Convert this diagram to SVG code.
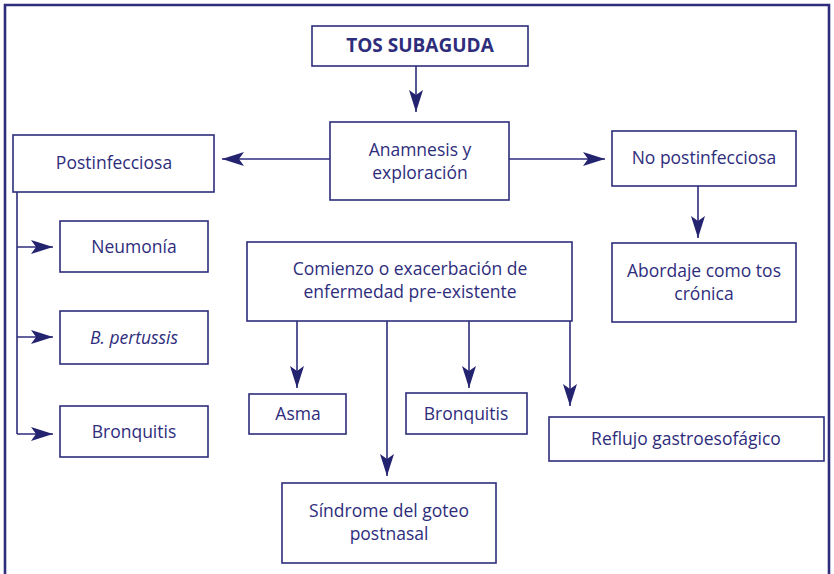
<svg xmlns="http://www.w3.org/2000/svg" width="834" height="574" viewBox="0 0 834 574">
<style>
.box{fill:#fff;stroke:#2e2d7c;stroke-width:1.6}
.t{font-family:"Open Sans","Liberation Sans",sans-serif;font-size:17.5px;fill:#2e2d7c;text-anchor:middle}
.b{font-weight:bold;font-size:19px}
.c{fill:none;stroke:#2e2d7c;stroke-width:1.6}
</style>
<defs>
<marker id="ah" markerUnits="userSpaceOnUse" markerWidth="22" markerHeight="14" viewBox="0 0 22 14" refX="22" refY="7" orient="auto">
<path d="M0,0 L22,7 L0,14 L5,7 z" fill="#24236f"/>
</marker>
</defs>
<rect width="834" height="574" fill="#fff"/>
<path d="M5,580 V5 H829 V580" fill="none" stroke="#2e2d7c" stroke-width="2.6"/>
<g id="connectors">
<line class="c" x1="416" y1="66" x2="416" y2="112" marker-end="url(#ah)"/>
<line class="c" x1="330" y1="159" x2="222" y2="159" marker-end="url(#ah)"/>
<line class="c" x1="509" y1="159" x2="605" y2="159" marker-end="url(#ah)"/>
<line class="c" x1="698" y1="186" x2="698" y2="238" marker-end="url(#ah)"/>
<path class="c" d="M17,192 V434"/>
<line class="c" x1="17" y1="247" x2="53" y2="247" marker-end="url(#ah)"/>
<line class="c" x1="17" y1="337" x2="53" y2="337" marker-end="url(#ah)"/>
<line class="c" x1="17" y1="434" x2="53" y2="434" marker-end="url(#ah)"/>
<line class="c" x1="297" y1="321" x2="297" y2="388" marker-end="url(#ah)"/>
<line class="c" x1="387" y1="321" x2="387" y2="476" marker-end="url(#ah)"/>
<line class="c" x1="469" y1="321" x2="469" y2="388" marker-end="url(#ah)"/>
<line class="c" x1="570" y1="321" x2="570" y2="406" marker-end="url(#ah)"/>
</g>
<g id="tos"><rect class="box" x="312" y="26" width="216" height="40"/><text class="t b" x="420" y="52">TOS SUBAGUDA</text></g>
<g id="anamnesis"><rect class="box" x="330" y="122" width="179" height="78"/><text class="t" x="420" y="156">Anamnesis y</text><text class="t" x="420" y="179">exploración</text></g>
<g id="postinf"><rect class="box" x="13" y="135" width="201" height="57"/><text class="t" x="114" y="169">Postinfecciosa</text></g>
<g id="nopostinf"><rect class="box" x="612" y="131" width="184" height="55"/><text class="t" x="704" y="164">No postinfecciosa</text></g>
<g id="abordaje"><rect class="box" x="612" y="243" width="184" height="79"/><text class="t" x="704" y="277">Abordaje como tos</text><text class="t" x="704" y="300">crónica</text></g>
<g id="neumonia"><rect class="box" x="60" y="221" width="148" height="51"/><text class="t" x="134" y="253">Neumonía</text></g>
<g id="pertussis"><rect class="box" x="60" y="311" width="148" height="53"/><text class="t" x="134" y="344" font-style="italic">B. pertussis</text></g>
<g id="bronquitis1"><rect class="box" x="60" y="406" width="148" height="51"/><text class="t" x="134" y="438">Bronquitis</text></g>
<g id="comienzo"><rect class="box" x="247" y="242" width="325" height="79"/><text class="t" x="410" y="275">Comienzo o exacerbación de</text><text class="t" x="410" y="298">enfermedad pre-existente</text></g>
<g id="asma"><rect class="box" x="249" y="394" width="97" height="40"/><text class="t" x="298" y="420">Asma</text></g>
<g id="bronquitis2"><rect class="box" x="406" y="393" width="121" height="41"/><text class="t" x="466" y="420">Bronquitis</text></g>
<g id="reflujo"><rect class="box" x="549" y="417" width="275" height="44"/><text class="t" x="686" y="445">Reflujo gastroesofágico</text></g>
<g id="sindrome"><rect class="box" x="282" y="483" width="214" height="80"/><text class="t" x="389" y="517">Síndrome del goteo</text><text class="t" x="389" y="540">postnasal</text></g>
</svg>
